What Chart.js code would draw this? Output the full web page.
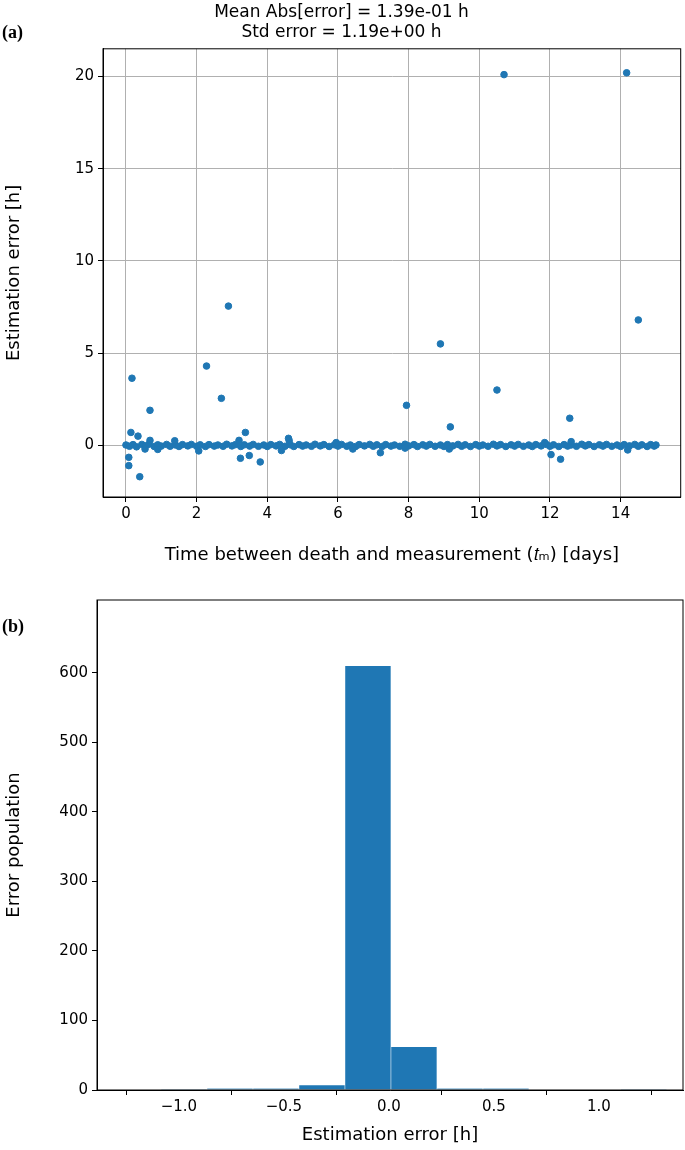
<!DOCTYPE html>
<html><head><meta charset="utf-8">
<script src="https://cdn.jsdelivr.net/npm/chart.js@4"></script>
<style>
body{margin:0;background:#fff;width:685px;height:1150px;position:relative;overflow:hidden}
.c{position:absolute;left:0;width:685px;height:570px}
.lab{position:absolute;left:2px;font:bold 18px "Liberation Serif","DejaVu Serif",serif}
</style></head><body>
<div class="c" style="top:0"><canvas id="a" width="685" height="570"></canvas></div>
<div class="c" style="top:580px"><canvas id="b" width="685" height="570"></canvas></div>
<div class="lab" style="top:22px">(a)</div>
<div class="lab" style="top:616px">(b)</div>
<script>
// near-zero scatter points (days, error h)
const baseX=[0,0.1,0.2,0.3,0.45,0.55,0.65,0.8,0.9,1.0,1.15,1.25,1.4,1.5,1.6,1.75,1.85,2.0,2.1,2.25,2.35,2.5,2.6,2.75,2.85,3.0,3.1,3.25,3.35,3.5,3.6,3.75,3.9,4.0,4.1,4.25,4.35,4.5,4.65,4.75,4.9,5.0,5.1,5.25,5.35,5.5,5.6,5.75,5.9,6.0,6.1,6.25,6.35,6.5,6.6,6.75,6.9,7.0,7.1,7.25,7.35,7.5,7.6,7.75,7.9,8.0,8.15,8.25,8.4,8.5,8.6,8.75,8.9,9.0,9.1,9.25,9.4,9.5,9.6,9.75,9.9,10.0,10.1,10.25,10.4,10.5,10.6,10.75,10.9,11.0,11.1,11.25,11.4,11.5,11.6,11.75,11.9,12.0,12.1,12.25,12.4,12.5,12.6,12.75,12.9,13.0,13.1,13.25,13.4,13.5,13.6,13.75,13.9,14.0,14.1,14.25,14.4,14.5,14.6,14.75,14.85,14.95,15.0];
const baseY=[0.02,-0.05,0.04,-0.08,0.05,-0.03,0.06,-0.06,0.03,-0.04,0.05,-0.05,0.02,-0.06,0.04,-0.03,0.05,-0.05,0.03,-0.06,0.04,-0.04,0.02,-0.05,0.06,-0.03,0.04,-0.06,0.03,-0.04,0.05,-0.05,0.02,-0.06,0.04,-0.03,0.05,-0.05,0.03,-0.06,0.04,-0.04,0.02,-0.05,0.06,-0.03,0.04,-0.06,0.03,-0.04,0.05,-0.05,0.02,-0.06,0.04,-0.03,0.05,-0.05,0.03,-0.06,0.04,-0.04,0.02,-0.05,0.06,-0.03,0.04,-0.06,0.03,-0.04,0.05,-0.05,0.02,-0.06,0.04,-0.03,0.05,-0.05,0.03,-0.06,0.04,-0.04,0.02,-0.05,0.06,-0.03,0.04,-0.06,0.03,-0.04,0.05,-0.05,0.02,-0.06,0.04,-0.03,0.05,-0.05,0.03,-0.06,0.04,-0.04,0.02,-0.05,0.06,-0.03,0.04,-0.06,0.03,-0.04,0.05,-0.05,0.02,-0.06,0.04,-0.03,0.05,-0.05,0.03,-0.06,0.04,-0.04,0.02];
const outX=[0.08,0.08,0.17,0.14,0.34,0.39,0.54,0.68,0.68,0.9,1.38,2.06,2.28,2.7,2.9,3.2,3.24,3.38,3.49,3.8,4.4,4.6,4.62,6.42,7.2,7.94,7.9,8.9,9.18,9.15,10.5,10.7,12.03,12.3,12.56,12.6,14.17,14.5,14.2,5.95,11.85];
const outY=[-1.1,-0.65,3.64,0.7,0.5,-1.7,-0.2,1.9,0.27,-0.22,0.25,-0.3,4.3,2.55,7.55,0.27,-0.7,0.7,-0.55,-0.9,-0.28,0.38,0.25,-0.2,-0.4,2.17,-0.15,5.5,1.0,-0.2,3.0,20.1,-0.5,-0.75,1.47,0.2,20.2,6.8,-0.25,0.15,0.15];
const xTicksA=[0,2,4,6,8,10,12,14];
const yTicksA=[0,5,10,15,20];
// histogram
const binCenters=[-0.976,-0.757,-0.538,-0.319,-0.100,0.119,0.338,0.557,0.776,0.994,1.213];
const binCounts=[1,2,2,7,610,62,2,2,0,0,1];
const yTicksB=[0,100,200,300,400,500,600];
const xTicksB=[-1.0,-0.5,0.0,0.5,1.0];

const blue='#1f77b4';
const F='"DejaVu Sans",sans-serif';
const box={id:'box',afterDraw(c){const a=c.chartArea,x=c.ctx;x.save();x.strokeStyle='#000';x.lineWidth=1;x.strokeRect(a.left,a.top,a.right-a.left,a.bottom-a.top);x.restore();}};
const fix=(w,h)=>s=>{if(w!=null)s.width=w;if(h!=null)s.height=h;};
const sub=s=>String(s).replace('-','\u2212');

new Chart(document.getElementById('a'),{
 type:'scatter',
 data:{datasets:[{data:baseX.map((x,i)=>({x,y:baseY[i]})).concat(outX.map((x,i)=>({x,y:outY[i]}))),backgroundColor:blue,borderColor:blue,pointRadius:3.3,pointHoverRadius:3.3}]},
 options:{responsive:false,animation:false,devicePixelRatio:1,
  layout:{padding:{left:0,right:2,top:0,bottom:0}},
  plugins:{legend:{display:false},tooltip:{enabled:false},
   title:{display:true,text:['Mean Abs[error] = 1.39e-01 h','Std error = 1.19e+00 h'],color:'#000',font:{family:F,size:17,weight:'normal'},padding:{top:2,bottom:6},lineHeight:1.2}},
  scales:{
   x:{type:'linear',min:-0.65,max:15.7,afterFit:fix(null,73),afterBuildTicks:s=>{s.ticks=xTicksA.map(v=>({value:v}));},
    ticks:{color:'#000',font:{family:F,size:15},maxRotation:0,padding:3},
    grid:{color:'#b0b0b0',tickColor:'#000',tickLength:5},border:{color:'#000'},
    title:{display:true,text:'Time between death and measurement (\u{1D461}\u2098) [days]',color:'#000',font:{family:F,size:18},padding:{top:2}}},
   y:{type:'linear',min:-2.8,max:21.5,afterFit:fix(103,null),afterBuildTicks:s=>{s.ticks=yTicksA.map(v=>({value:v}));},
    ticks:{color:'#000',font:{family:F,size:15},padding:4},
    grid:{color:'#b0b0b0',tickColor:'#000',tickLength:5},border:{color:'#000'},
    title:{display:true,text:'Estimation error [h]',color:'#000',font:{family:F,size:18},padding:{bottom:4}}}
  }},
 plugins:[box]
});

new Chart(document.getElementById('b'),{
 type:'bar',
 data:{datasets:[{data:binCenters.map((x,i)=>({x,y:binCounts[i]})),backgroundColor:blue,borderColor:'rgba(255,255,255,0.25)',borderWidth:{left:0.5,right:0.5,top:0,bottom:0},barPercentage:1,categoryPercentage:1}]},
 options:{responsive:false,animation:false,devicePixelRatio:1,
  layout:{padding:{left:0,right:2,top:20,bottom:0}},
  plugins:{legend:{display:false},tooltip:{enabled:false}},
  scales:{
   x:{type:'linear',min:-1.39,max:1.40,offset:false,afterFit:fix(null,60),afterBuildTicks:s=>{s.ticks=xTicksB.map(v=>({value:v}));},
    ticks:{color:'#000',font:{family:F,size:15},maxRotation:0,padding:3,callback:v=>sub(v.toFixed(1))},
    grid:{drawOnChartArea:false,tickColor:'#000',tickLength:5},border:{color:'#000'},
    title:{display:true,text:'Estimation error [h]',color:'#000',font:{family:F,size:18},padding:{top:0}}},
   y:{type:'linear',min:0,max:705,afterFit:fix(97,null),afterBuildTicks:s=>{s.ticks=yTicksB.map(v=>({value:v}));},
    ticks:{color:'#000',font:{family:F,size:15},padding:4},
    grid:{drawOnChartArea:false,tickColor:'#000',tickLength:5},border:{color:'#000'},
    title:{display:true,text:'Error population',color:'#000',font:{family:F,size:18},padding:{bottom:4}}}
  }},
 plugins:[box]
});
</script></body></html>
